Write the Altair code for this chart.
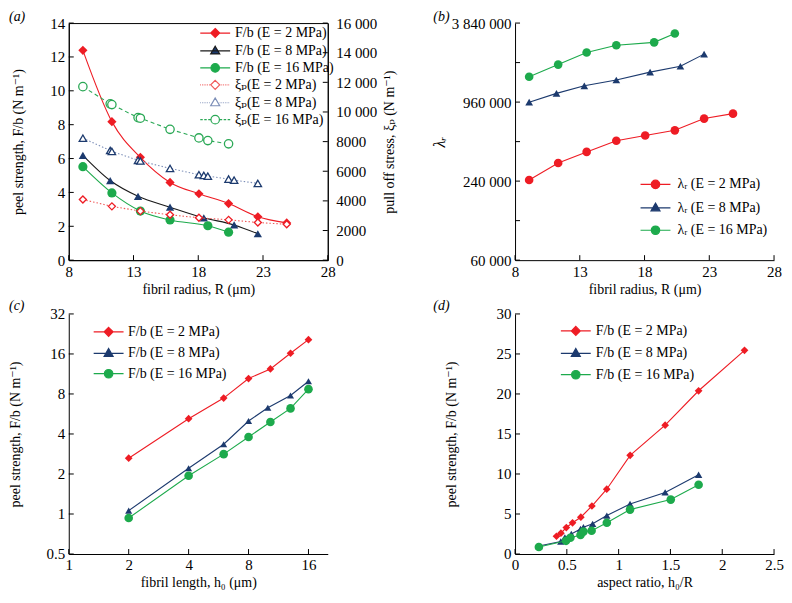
import altair as alt
import pandas as pd

FONTS = "Liberation Serif, DejaVu Serif, serif"
RED = "#ee1c24"
NAVY = "#1c3a6e"
GREEN = "#1daa4c"
BLACK = "#1a1a1a"
XI_RED = "#f05a5a"
XI_BLUE = "#7d8fb8"
XI_GREEN = "#2aa855"

# ---------------- (a) peel strength / pull-off stress vs fibril radius ----------------
a_R_e2 = [9.09, 11.33, 13.53, 15.82, 18.05, 20.34, 22.6, 24.83]
a_F_e2 = [12.39, 8.18, 6.07, 4.59, 3.92, 3.34, 2.56, 2.2]
a_R_e8 = [9.09, 11.2, 13.35, 15.82, 18.43, 20.77, 22.6]
a_F_e8 = [6.19, 4.7, 3.77, 3.13, 2.5, 2.08, 1.56]
a_R_e16 = [9.09, 11.33, 13.53, 15.82, 18.74, 20.34]
a_F_e16 = [5.52, 3.97, 2.9, 2.37, 2.03, 1.65]
a_xiR_e2 = [9.09, 11.33, 13.53, 15.82, 18.05, 20.34, 22.6, 24.83]
a_xi_e2 = [4090, 3630, 3310, 3060, 2860, 2720, 2540, 2420]
a_xiR_e8 = [9.09, 11.2, 11.33, 13.35, 13.53, 15.82, 18.05, 18.43, 18.74, 20.34, 20.77, 22.6]
a_xi_e8 = [8230, 7400, 7340, 6740, 6690, 6190, 5770, 5720, 5670, 5470, 5400, 5180]
a_xiR_e16 = [9.09, 11.2, 11.33, 13.35, 13.53, 15.82, 18.05, 18.74, 20.34]
a_xi_e16 = [11710, 10550, 10500, 9620, 9580, 8830, 8250, 8070, 7850]
a_xticks = [8, 13, 18, 23, 28]
a_yticks = [0, 2, 4, 6, 8, 10, 12, 14]
a_y2ticks = [0, 2000, 4000, 6000, 8000, 10000, 12000, 14000, 16000]

# ---------------- (b) lambda_r vs fibril radius ----------------
b_R_e2 = [9.09, 11.33, 13.53, 15.82, 18.05, 20.34, 22.6, 24.83]
b_L_e2 = [244600, 329600, 400800, 487300, 534000, 585000, 719000, 784000]
b_R_e8 = [9.09, 11.2, 13.35, 15.82, 18.43, 20.77, 22.6]
b_L_e8 = [958800, 1119000, 1277000, 1415000, 1624000, 1801000, 2227000]
b_R_e16 = [9.09, 11.33, 13.53, 15.82, 18.74, 20.34]
b_L_e16 = [1499000, 1853000, 2291000, 2600000, 2738000, 3196000]
b_xticks = [8, 13, 18, 23, 28]
b_yticks = [60000, 240000, 960000, 3840000]
b_yminor = [120000, 480000, 1920000]

# ---------------- (c) peel strength vs fibril length ----------------
c_h_e2 = [2, 4, 6, 8, 10.3, 13, 16]
c_F_e2 = [2.63, 5.21, 7.45, 10.45, 12.35, 16.2, 20.5]
c_h_e8 = [2, 4, 6, 8, 10, 13, 16]
c_F_e8 = [1.06, 2.21, 3.35, 5.01, 6.3, 7.8, 9.98]
c_h_e16 = [2, 4, 6, 8, 10.3, 13, 16]
c_F_e16 = [0.933, 1.94, 2.82, 3.8, 4.92, 6.23, 8.7]
c_xticks = [1, 2, 4, 8, 16]
c_yticks = [0.5, 1, 2, 4, 8, 16, 32]

# ---------------- (d) peel strength vs aspect ratio ----------------
d_A_e2 = [0.40, 0.443, 0.495, 0.555, 0.635, 0.742, 0.885, 1.111, 1.449, 1.772, 2.215]
d_F_e2 = [2.22, 2.6, 3.31, 3.9, 4.6, 6.0, 8.1, 12.33, 16.1, 20.4, 25.45]
d_A_e8 = [0.23, 0.442, 0.481, 0.543, 0.632, 0.66, 0.749, 0.886, 1.11, 1.449, 1.772]
d_F_e8 = [1.0, 1.56, 2.08, 2.5, 3.13, 3.35, 3.77, 4.8, 6.25, 7.7, 9.9]
d_A_e16 = [0.23, 0.492, 0.534, 0.632, 0.66, 0.739, 0.886, 1.11, 1.503, 1.772]
d_F_e16 = [0.88, 1.65, 2.03, 2.37, 2.8, 2.9, 3.9, 5.55, 6.8, 8.65]
d_xticks = [0, 0.5, 1, 1.5, 2, 2.5]
d_yticks = [0, 5, 10, 15, 20, 25, 30]

# legend / panel texts
lab_a = ["F/b (E = 2 MPa)", "F/b (E = 8 MPa)", "F/b (E = 16 MPa)",
         "ξₚ(E = 2 MPa)", "ξₚ(E = 8 MPa)", "ξₚ(E = 16 MPa)"]
lab_b = ["λᵣ (E = 2 MPa)", "λᵣ (E = 8 MPa)", "λᵣ (E = 16 MPa)"]
lab_cd = ["F/b (E = 2 MPa)", "F/b (E = 8 MPa)", "F/b (E = 16 MPa)"]
panel_tags = ["(a)", "(b)", "(c)", "(d)"]

W = 260
H1 = 238
H2 = 241
TICK = 5


def axis_style(**kw):
    base = dict(labelFont=FONTS, titleFont=FONTS, labelFontSize=15, titleFontSize=14,
                titleFontWeight="normal", labelColor="black", titleColor="black",
                domainColor="black", domainWidth=1, ticks=False, grid=False,
                labelPadding=4, titlePadding=3, labelFlush=False)
    base.update(kw)
    return alt.Axis(**base)


def series(x, y, xs, ys, ax_x, ax_y, line_color, mk_color, shape, size,
           filled=True, dash=None, interp="linear", lw=1.1):
    d = pd.DataFrame({"x": x, "y": y})
    enc = dict(x=alt.X("x:Q", scale=xs, axis=ax_x), y=alt.Y("y:Q", scale=ys, axis=ax_y))
    lkw = dict(color=line_color, strokeWidth=lw, interpolate=interp)
    if dash is not None:
        lkw["strokeDash"] = dash
    ln = alt.Chart(d).mark_line(**lkw).encode(**enc)
    if filled:
        pt = alt.Chart(d).mark_point(shape=shape, filled=True, size=size, opacity=1,
                                     color=mk_color).encode(**enc)
    else:
        pt = alt.Chart(d).mark_point(shape=shape, filled=False, size=size, opacity=1,
                                     stroke=mk_color, fill="white", fillOpacity=1,
                                     strokeWidth=1.3).encode(**enc)
    return [ln, pt]


def yticks_layer(vals, ys, ax_y, side, width):
    d = pd.DataFrame({"y": vals})
    if side == "left":
        x0, x1 = 0, TICK
    else:
        x0, x1 = width - TICK, width
    return alt.Chart(d).mark_rule(color="black", strokeWidth=1).encode(
        y=alt.Y("y:Q", scale=ys, axis=ax_y), x=alt.value(x0), x2=alt.value(x1))


def xticks_layer(vals, xs, ax_x, height):
    d = pd.DataFrame({"x": vals})
    return alt.Chart(d).mark_rule(color="black", strokeWidth=1).encode(
        x=alt.X("x:Q", scale=xs, axis=ax_x), y=alt.value(height), y2=alt.value(height - TICK))


def tag_layer(tag, dx, dy):
    d = pd.DataFrame({"t": [tag]})
    return alt.Chart(d).mark_text(align="left", baseline="middle", font=FONTS, fontSize=14,
                                  fontStyle="italic", color="black").encode(
        text="t:N", x=alt.value(dx), y=alt.value(dy))


def seg_line(x0, x1, dash, gap):
    out = []
    p = x0
    while p < x1 - 1e-6:
        q = min(p + dash, x1)
        out.append(f"M{p:.2f},0H{q:.2f}")
        p = q + gap
    return "".join(out)


DIAMOND = "M0,-0.9L0.9,0L0,0.9L-0.9,0Z"
TRI = "M0,-0.95L0.9,0.6L-0.9,0.6Z"
CIRC = "M-0.85,0A0.85,0.85 0 1,0 0.85,0A0.85,0.85 0 1,0 -0.85,0Z"
SOLID = "M-3,0H3"


def open_path(marker, dash, gap, r=0.9):
    return seg_line(-3, -r, dash, gap) + seg_line(r, 3, dash, gap) + marker


def legend_layer(names, strokes, fills, paths, lx, ly, row_pad, label_offset, lw=1.2):
    leg = alt.Legend(title=None, orient="none", legendX=lx, legendY=ly, padding=0,
                     labelFont=FONTS, labelFontSize=14, labelColor="black",
                     labelOffset=label_offset, rowPadding=row_pad,
                     symbolSize=100, symbolStrokeWidth=lw, symbolOpacity=1, labelLimit=300)
    d = pd.DataFrame({"s": names})
    return alt.Chart(d).transform_filter("false").mark_point(
        size=100, opacity=1, strokeWidth=lw).encode(
        stroke=alt.Stroke("s:N", scale=alt.Scale(domain=names, range=strokes), legend=leg),
        fill=alt.Fill("s:N", scale=alt.Scale(domain=names, range=fills), legend=leg),
        shape=alt.Shape("s:N", scale=alt.Scale(domain=names, range=paths), legend=leg),
    )


# ====================== panel (a) ======================
xs_a = alt.Scale(domain=[8, 28], nice=False, zero=False)
ys_a = alt.Scale(domain=[0, 14], nice=False)
ys_a2 = alt.Scale(domain=[0, 16000], nice=False)
ax_xa = axis_style(title="fibril radius, R (μm)", values=a_xticks)
ax_ya = axis_style(title="peel strength, F/b (N m⁻¹)", values=a_yticks, titlePadding=24)
ax_ya2 = axis_style(title="pull off stress, ξₚ (N m⁻¹)", values=a_y2ticks, orient="right",
                    titlePadding=20, titleAngle=270, labelPadding=8,
                    labelExpr="datum.value >= 10000 ? replace(format(datum.value, ','), ',', ' ') : format(datum.value, 'd')")

left_layers = []
left_layers += series(a_R_e2, a_F_e2, xs_a, ys_a, ax_xa, ax_ya, RED, RED, "diamond", 85, interp="monotone")
left_layers += series(a_R_e8, a_F_e8, xs_a, ys_a, ax_xa, ax_ya, BLACK, NAVY, "triangle-up", 70, interp="monotone")
left_layers += series(a_R_e16, a_F_e16, xs_a, ys_a, ax_xa, ax_ya, GREEN, GREEN, "circle", 85, interp="monotone")
left_layers.append(yticks_layer(a_yticks, ys_a, ax_ya, "left", W))
left_layers.append(xticks_layer(a_xticks, xs_a, ax_xa, H1))
left_layers.append(tag_layer(panel_tags[0], -60, -6))
left_layers.append(legend_layer(
    lab_a,
    [RED, BLACK, GREEN, XI_RED, XI_BLUE, XI_GREEN],
    [RED, NAVY, GREEN, "white", "white", "white"],
    [SOLID + DIAMOND, SOLID + TRI, SOLID + CIRC,
     open_path(DIAMOND, 0.15, 0.2), open_path(TRI, 0.15, 0.2), open_path(CIRC, 0.5, 0.3)],
    140, 3, 3, 13))

right_layers = []
right_layers += series(a_xiR_e2, a_xi_e2, xs_a, ys_a2, ax_xa, ax_ya2, XI_RED, RED, "diamond", 50,
                       filled=False, dash=[1.5, 2])
right_layers += series(a_xiR_e8, a_xi_e8, xs_a, ys_a2, ax_xa, ax_ya2, XI_BLUE, NAVY, "triangle-up", 55,
                       filled=False, dash=[1.5, 2])
right_layers += series(a_xiR_e16, a_xi_e16, xs_a, ys_a2, ax_xa, ax_ya2, XI_GREEN, XI_GREEN, "circle", 70,
                       filled=False, dash=[4, 3])
right_layers.append(yticks_layer(a_y2ticks, ys_a2, ax_ya2, "right", W))

panel_a = alt.layer(alt.layer(*left_layers), alt.layer(*right_layers)).resolve_scale(
    y="independent").properties(width=W, height=H1,
                                view=alt.ViewBackground(stroke="black", strokeWidth=1))

# ====================== panel (b) ======================
xs_b = alt.Scale(domain=[8, 28], nice=False, zero=False)
ys_b = alt.Scale(type="log", base=2, domain=[60000, 3840000], nice=False)
ax_xb = axis_style(title="fibril radius, R (μm)", values=b_xticks)
ax_yb = axis_style(title="λᵣ", values=b_yticks, titleFontStyle="italic", titleFontSize=16,
                   titlePadding=4,
                   labelExpr="replace(format(datum.value, ','), regexp(',', 'g'), ' ')")
layers_b = []
layers_b += series(b_R_e2, b_L_e2, xs_b, ys_b, ax_xb, ax_yb, RED, RED, "circle", 75)
layers_b += series(b_R_e8, b_L_e8, xs_b, ys_b, ax_xb, ax_yb, NAVY, NAVY, "triangle-up", 60)
layers_b += series(b_R_e16, b_L_e16, xs_b, ys_b, ax_xb, ax_yb, GREEN, GREEN, "circle", 75)
layers_b.append(yticks_layer(b_yticks + b_yminor, ys_b, ax_yb, "left", W))
layers_b.append(xticks_layer(b_xticks, xs_b, ax_xb, H1))
layers_b.append(tag_layer(panel_tags[1], -82, -6))
layers_b.append(legend_layer(
    lab_b, [RED, NAVY, GREEN], [RED, NAVY, GREEN],
    [SOLID + CIRC, SOLID + TRI, SOLID + CIRC], 134, 155, 8.5, 15))
panel_b = alt.layer(*layers_b).properties(width=W, height=H1)

# ====================== panel (c) ======================
xs_c = alt.Scale(type="log", base=2, domain=[1, 20], nice=False)
ys_c = alt.Scale(type="log", base=2, domain=[0.5, 32], nice=False)
ax_xc = axis_style(title="fibril length, h₀ (μm)", values=c_xticks, format="~g")
ax_yc = axis_style(title="peel strength, F/b (N m⁻¹)", values=c_yticks, format="~g", titlePadding=24)
layers_c = []
layers_c += series(c_h_e2, c_F_e2, xs_c, ys_c, ax_xc, ax_yc, RED, RED, "diamond", 60)
layers_c += series(c_h_e8, c_F_e8, xs_c, ys_c, ax_xc, ax_yc, NAVY, NAVY, "triangle-up", 50)
layers_c += series(c_h_e16, c_F_e16, xs_c, ys_c, ax_xc, ax_yc, GREEN, GREEN, "circle", 75)
layers_c.append(yticks_layer(c_yticks, ys_c, ax_yc, "left", W))
layers_c.append(xticks_layer(c_xticks, xs_c, ax_xc, H2))
layers_c.append(tag_layer(panel_tags[2], -60, -8))
layers_c.append(legend_layer(
    lab_cd, [RED, NAVY, GREEN], [RED, NAVY, GREEN],
    [SOLID + DIAMOND, SOLID + TRI, SOLID + CIRC], 33, 11, 6.5, 12.5))
panel_c = alt.layer(*layers_c).properties(width=W, height=H2)

# ====================== panel (d) ======================
xs_d = alt.Scale(domain=[0, 2.5], nice=False)
ys_d = alt.Scale(domain=[0, 30], nice=False)
ax_xd = axis_style(title="aspect ratio, h₀/R", values=d_xticks, format="~g")
ax_yd = axis_style(title="peel strength, F/b (N m⁻¹)", values=d_yticks, titlePadding=38)
layers_d = []
layers_d += series(d_A_e2, d_F_e2, xs_d, ys_d, ax_xd, ax_yd, RED, RED, "diamond", 60)
layers_d += series(d_A_e8, d_F_e8, xs_d, ys_d, ax_xd, ax_yd, NAVY, NAVY, "triangle-up", 55)
layers_d += series(d_A_e16, d_F_e16, xs_d, ys_d, ax_xd, ax_yd, GREEN, GREEN, "circle", 75)
layers_d.append(yticks_layer(d_yticks, ys_d, ax_yd, "left", W))
layers_d.append(xticks_layer(d_xticks, xs_d, ax_xd, H2))
layers_d.append(tag_layer(panel_tags[3], -82, -8))
layers_d.append(legend_layer(
    lab_cd, [RED, NAVY, GREEN], [RED, NAVY, GREEN],
    [SOLID + DIAMOND, SOLID + TRI, SOLID + CIRC], 54, 10, 7.5, 13))
panel_d = alt.layer(*layers_d).properties(width=W, height=H2)

chart = alt.concat(panel_a, panel_b, panel_c, panel_d, columns=2,
                   spacing={"row": 2, "column": 34}).resolve_scale(
    stroke="independent", fill="independent", shape="independent").configure(
    font=FONTS, padding=0, view=alt.ViewConfig(stroke=None))

chart.save("out.html", embed_options={"renderer": "svg", "actions": False})
